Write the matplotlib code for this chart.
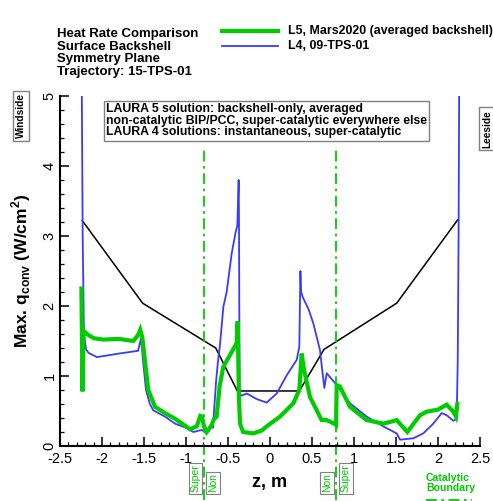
"""
Heat rate comparison on backshell symmetry plane, LAURA 5 vs LAURA 4
"""
import matplotlib
matplotlib.use('Agg')
import matplotlib.pyplot as plt
from matplotlib.lines import Line2D
from matplotlib.ticker import MultipleLocator

plt.rcParams['font.family'] = ['Liberation Sans', 'DejaVu Sans']
plt.rcParams['mathtext.fontset'] = 'custom'
plt.rcParams['mathtext.rm'] = 'Liberation Sans:bold'
plt.rcParams['mathtext.bf'] = 'Liberation Sans:bold'

# L4, 09-TPS-01 (blue)
z_l4 = [-2.245, -2.23, -2.215, -2.19, -2.16, -2.06, -1.8, -1.57, -1.535, -1.51, -1.476, -1.43,
        -1.39, -1.25, -1.131, -1.0, -0.913, -0.813, -0.754, -0.71, -0.694, -0.68, -0.667, -0.64,
        -0.62, -0.595, -0.555, -0.516, -0.456, -0.41, -0.389, -0.373, -0.369, -0.362, -0.337,
        -0.277, -0.158, -0.04, 0.08, 0.199, 0.318, 0.349, 0.362, 0.37, 0.389, 0.46, 0.516, 0.595,
        0.625, 0.647, 0.675, 0.794, 0.952, 1.151, 1.349, 1.508, 1.548, 1.706, 1.825, 1.944,
        2.044, 2.103, 2.183, 2.222, 2.235, 2.245, 2.255]
q_l4 = [6.0, 3.0, 1.6, 1.38, 1.33, 1.27, 1.32, 1.36, 1.54, 1.2, 0.8, 0.6,
        0.51, 0.42, 0.32, 0.26, 0.2, 0.23, 0.18, 0.24, 0.3, 0.26, 0.49, 0.95,
        1.2, 1.45, 1.99, 2.2, 2.75, 3.05, 3.15, 3.8, 3.2, 0.75, 0.72,
        0.75, 0.67, 0.62, 0.75, 1.01, 1.23, 1.42, 2.5, 2.2, 2.13, 1.95, 1.75, 1.37,
        1.05, 0.83, 1.04, 0.87, 0.61, 0.42, 0.28, 0.18, 0.09, 0.11, 0.18, 0.32,
        0.47, 0.44, 0.36, 0.39, 1.2, 3.0, 6.0]

# L5, Mars2020 averaged backshell (green)
z_l5 = [-2.245, -2.232, -2.22, -2.18, -2.1, -1.984, -1.8, -1.627, -1.568, -1.545, -1.52,
        -1.449, -1.369, -1.25, -1.131, -1.0, -0.952, -0.873, -0.83, -0.81, -0.786, -0.754,
        -0.694, -0.67, -0.635, -0.6, -0.556, -0.476, -0.397, -0.385, -0.37, -0.357, -0.32,
        -0.199, -0.1, -0.04, 0.119, 0.278, 0.349, 0.377, 0.405, 0.476, 0.615, 0.675, 0.762,
        0.786, 0.794, 0.833, 0.952, 1.151, 1.349, 1.45, 1.508, 1.635, 1.786, 1.865, 2.0,
        2.103, 2.183, 2.214, 2.23]
q_l5 = [2.25, 0.78, 1.65, 1.6, 1.54, 1.52, 1.53, 1.5, 1.59, 1.66, 1.55,
        0.8, 0.56, 0.47, 0.39, 0.28, 0.24, 0.28, 0.43, 0.42, 0.28, 0.2,
        0.3, 0.38, 0.42, 0.85, 1.13, 1.3, 1.47, 1.78, 0.7, 0.32, 0.2,
        0.18, 0.22, 0.28, 0.42, 0.61, 0.8, 1.32, 1.09, 0.7, 0.37, 0.37, 0.32,
        0.3, 0.87, 0.85, 0.56, 0.37, 0.32, 0.35, 0.37, 0.2, 0.44, 0.49, 0.52,
        0.59, 0.49, 0.42, 0.6]

# black outline (geometry profile)
z_geom = [-2.235, -1.516, -0.646, -0.389, 0.349, 0.643, 1.508, 2.234]
q_geom = [3.22, 2.04, 1.40, 0.786, 0.786, 1.38, 2.04, 3.23]

z_cat = [-0.785, 0.785]  # catalytic boundary

green = '#00cc00'
blue = '#3a3aff'
W, H = 493.0, 501.0
dashdot = (0, (6, 2.5, 1.5, 2.5))

fig = plt.figure(figsize=(4.93, 5.01), dpi=100)
ax = fig.add_axes([60/W, 55/H, 420/W, 350/H])

ax.plot(z_geom, q_geom, color='black', lw=1.1)
ax.plot(z_l4, q_l4, color=blue, lw=1.3)
ax.plot(z_l5, q_l5, color=green, lw=3.0, solid_joinstyle='miter')
for zc in z_cat:
    ax.axvline(zc, ymin=-0.154, ymax=0.856, color=green, lw=1.3,
               linestyle=dashdot, clip_on=False)

ax.set_xlim(-2.5, 2.5)
ax.set_ylim(0, 5)
ax.spines['top'].set_visible(False)
ax.spines['right'].set_visible(False)
ax.spines['left'].set_linewidth(1.5)
ax.spines['bottom'].set_linewidth(1.5)
ax.xaxis.set_minor_locator(MultipleLocator(0.1))
ax.yaxis.set_minor_locator(MultipleLocator(0.2))
ax.set_xticks([-2.5, -2, -1.5, -1, -0.5, 0, 0.5, 1, 1.5, 2, 2.5])
ax.set_xticklabels(['-2.5', '-2', '-1.5', '-1', '-0.5', '0', '0.5', '1', '1.5', '2', '2.5'])
ax.set_yticks([0, 1, 2, 3, 4, 5])
ax.tick_params(which='major', direction='in', length=6.5, width=1.1, labelsize=10.5)
ax.tick_params(axis='x', pad=4)
ax.tick_params(axis='y', pad=2.5, labelrotation=90)
ax.tick_params(which='minor', direction='in', length=3, width=0.9)
for lab in ax.get_yticklabels():
    lab.set_va('center')

ax.set_xlabel('z, m', fontsize=13, fontweight='bold', labelpad=6)
ax.set_ylabel(r'Max. q$_{\mathrm{conv}}$ (W/cm$^{\mathrm{2}}$)', fontsize=12.5,
              fontweight='bold', labelpad=7)

# note box
ax.text(46/420, 1 - 7/350, 'LAURA 5 solution: backshell-only, averaged\n'
        'non-catalytic BIP/PCC, super-catalytic everywhere else\n'
        'LAURA 4 solutions: instantaneous, super-catalytic',
        fontsize=8.8, fontweight='bold', va='top', ha='left', linespacing=0.95,
        transform=ax.transAxes,
        bbox=dict(boxstyle='square,pad=0.2', fc='white', ec='gray', lw=1))

# header and legend
fig.text(57/W, 1 - 28/H, 'Heat Rate Comparison\nSurface Backshell\nSymmetry Plane\nTrajectory: 15-TPS-01',
         fontsize=9.5, fontweight='bold', va='top', ha='left', linespacing=1.08)
fig.add_artist(Line2D([222/W, 278/W], [1 - 31/H, 1 - 31/H], color=green, lw=3.0))
fig.add_artist(Line2D([222/W, 278/W], [1 - 46/H, 1 - 46/H], color=blue, lw=1.3))
fig.text(288/W, 1 - 31/H, 'L5, Mars2020 (averaged backshell)', fontsize=8.9,
         fontweight='bold', va='center', ha='left')
fig.text(288/W, 1 - 46/H, 'L4, 09-TPS-01', fontsize=8.9, fontweight='bold',
         va='center', ha='left')

# side labels
box = dict(boxstyle='square,pad=0.25', fc='white', ec='gray', lw=1)
fig.text(21/W, 1 - 116/H, 'Windside', rotation=90, fontsize=7.3, fontweight='bold',
         ha='center', va='center', bbox=box)
fig.text(487/W, 1 - 110/H, 'Leeside', rotation=90, fontsize=7.3, fontweight='bold',
         ha='center', va='top', bbox=box)

# catalytic boundary labels
sbox = dict(boxstyle='square,pad=0.15', fc='white', ec='gray', lw=0.8)
for x, s in [(195.5, 'Super'), (213, 'Non'), (327, 'Non'), (346, 'Super')]:
    fig.text(x/W, 1 - 492/H, s, rotation=90, fontsize=7.5, color=green,
             ha='center', va='bottom', bbox=sbox)
fig.text(426/W, 1 - 473/H, 'Catalytic\nBoundary', fontsize=7.6, fontweight='bold',
         color=green, va='top', ha='left', linespacing=1.0)
fig.add_artist(Line2D([426/W, 472/W], [1 - 500/H, 1 - 500/H], color=green, lw=1.3,
                      linestyle=dashdot))

fig.savefig('out.png', dpi=100)
